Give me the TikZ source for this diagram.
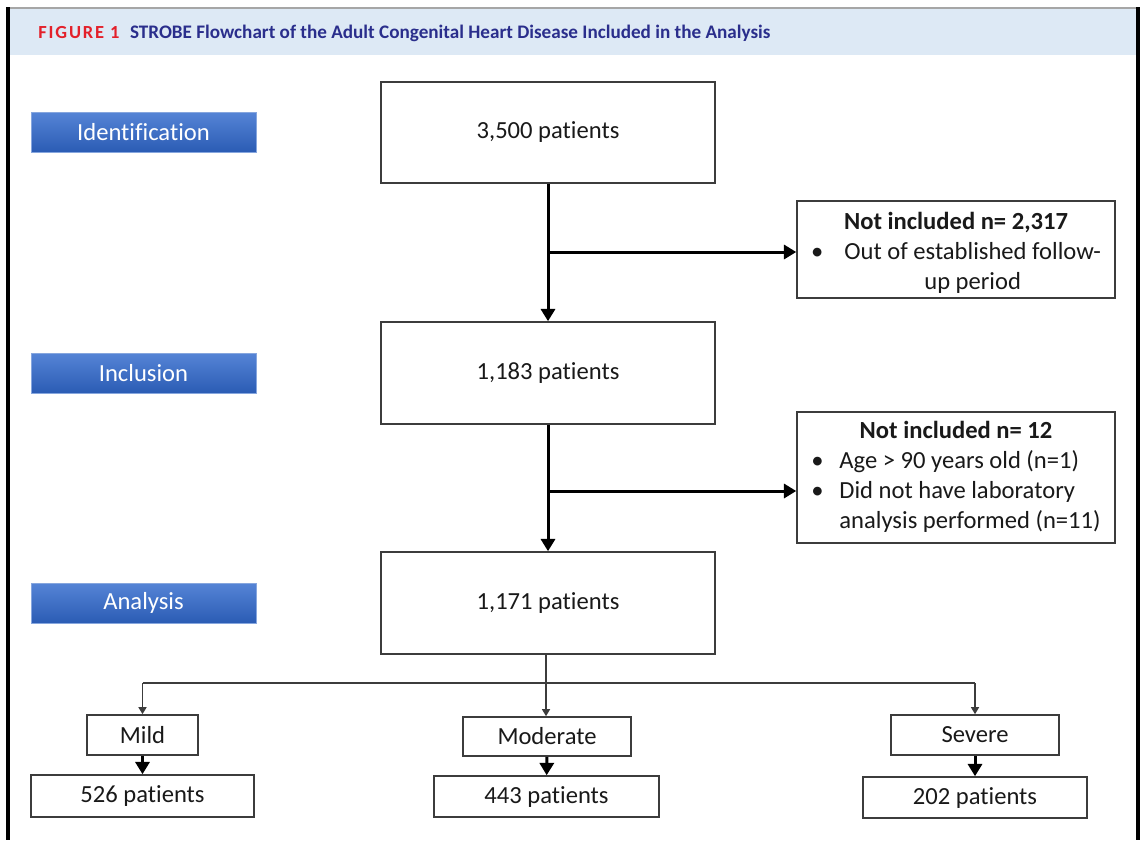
\documentclass[tikz,border=0pt]{standalone}
\usepackage{fontspec}
\setmainfont{Carlito}[Ligatures=NoCommon]
\newfontfamily\figfont[LetterSpace=10]{Carlito}
\usepackage{tikz}
\usetikzlibrary{positioning,arrows.meta}

\definecolor{headbg}{HTML}{DDE9F5}
\definecolor{headred}{HTML}{E3202A}
\definecolor{headblue}{HTML}{2A2E8C}
\definecolor{stagetop}{HTML}{5584D6}
\definecolor{stagebot}{HTML}{2B5CB4}
\definecolor{stageline}{HTML}{86A6DE}
\definecolor{boxline}{HTML}{3C3C3C}

\tikzset{
  box/.style={draw=boxline, line width=0.9pt, fill=white, text=black!90,
    font=\fontsize{14}{17}\selectfont, align=center, inner sep=2pt},
  stage/.style={draw=stageline, line width=0.5pt, top color=stagetop,
    bottom color=stagebot, text=white, font=\fontsize{14}{17}\selectfont,
    minimum width=4.5cm, minimum height=0.8cm},
  flow/.style={line width=1.7pt, -{Triangle[width=8pt,length=7pt]}},
  link/.style={draw=boxline, line width=0.9pt},
  linkarrow/.style={link, -{Triangle[width=4.5pt,length=4pt]}}
}

\begin{document}
\begin{tikzpicture}[x=0.02cm, y=-0.02cm]
\useasboundingbox (0,0) rectangle (1142,840);
\fill[headbg] (8,9) rectangle (1138,55);
\draw[gray!70, line width=1pt] (8,8) -- (1138,8);
\draw[line width=1.8pt] (8,7) -- (8,840);
\draw[line width=1.8pt] (1138,7) -- (1138,840);
\node[anchor=west, inner sep=0pt] (title) at (38,33)
  {{\figfont\fontsize{10.5}{12}\selectfont\bfseries\color{headred}FIGURE 1}\hspace{6pt}%
   {\fontsize{10.9}{12}\selectfont\bfseries\color{headblue}STROBE Flowchart of the Adult Congenital Heart Disease Included in the Analysis}};

\node[stage] (ident) at (143.5,132) {Identification};
\node[stage] (incl) at (143.5,373) {Inclusion};
\node[stage] (anal) at (143.5,603) {Analysis};

\node[box, minimum width=6.68cm, minimum height=2.02cm] (n3500) at (548,132.5) {3,500 patients};
\node[box, minimum width=6.68cm, minimum height=2.04cm] (n1183) at (548,373) {1,183 patients};
\node[box, minimum width=6.68cm, minimum height=2.04cm] (n1171) at (548,603) {1,171 patients};

\node[box, minimum width=6.36cm, minimum height=1.9cm] (excl1) at (956,249.5)
  {\raisebox{-2.3pt}[\height][\depth]{\begin{tabular}{@{}c@{\hspace{12pt}}c@{}}
   \multicolumn{2}{c}{\textbf{Not included n= 2,317}}\\
   \textbullet & Out of established follow-\\
   & up period
   \end{tabular}}};
\node[box, minimum width=6.36cm, minimum height=2.62cm] (excl2) at (956,477.5)
  {\begin{tabular}{@{}c@{\hspace{9pt}}l@{}}
   \multicolumn{2}{c}{\textbf{Not included n= 12}}\\
   \textbullet & Age > 90 years old (n=1)\\
   \textbullet & Did not have laboratory\\
   & analysis performed (n=11)
   \end{tabular}};

\node[box, minimum width=2.22cm, minimum height=0.8cm] (mild) at (142.5,735) {Mild};
\node[box, minimum width=3.36cm, minimum height=0.78cm] (moderate) at (547,736.5) {Moderate};
\node[box, minimum width=3.36cm, minimum height=0.8cm] (severe) at (975,735) {Severe};
\node[box, minimum width=4.46cm, minimum height=0.84cm] (c526) at (142.5,796) {526 patients};
\node[box, minimum width=4.5cm, minimum height=0.82cm] (c443) at (546.5,796.5) {443 patients};
\node[box, minimum width=4.48cm, minimum height=0.82cm] (c202) at (975,797.5) {202 patients};

\coordinate (b1) at (548,252);
\coordinate (b2) at (548,491);
\coordinate (split) at (546,683);

\draw[flow] (n3500) -- (n1183);
\draw[flow] (b1) -- (b1 -| excl1.west);
\draw[flow] (n1183) -- (n1171);
\draw[flow] (b2) -- (b2 -| excl2.west);

\draw[link] (n1171.south -| split) -- (split);
\draw[link] (split -| mild.north) -- (split -| severe.north);
\draw[linkarrow] (split -| mild.north) -- (mild.north);
\draw[linkarrow] (split) -- (moderate.north -| split);
\draw[linkarrow] (split -| severe.north) -- (severe.north);

\draw[flow] (mild) -- (c526);
\draw[flow] (moderate) -- (c443);
\draw[flow] (severe) -- (c202);
\end{tikzpicture}
\end{document}
